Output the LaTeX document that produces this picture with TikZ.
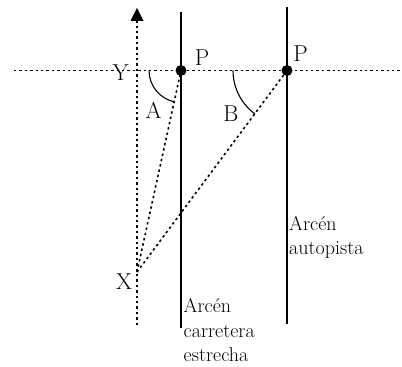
\documentclass[tikz,border=0pt]{standalone}
\usepackage{fontspec}
\setmainfont{Latin Modern Roman}
\usetikzlibrary{calc}
\begin{document}
\begin{tikzpicture}[x=1pt,y=1pt,
  dotline/.style={line width=1.6pt,dash pattern=on 2.4pt off 3pt},
  solidline/.style={line width=1.4pt},
  lbl/.style={inner sep=0pt,anchor=base,font=\fontsize{23}{24}\selectfont},
  txt/.style={inner sep=0pt,anchor=base west,font=\fontsize{20}{24}\selectfont},
  pdot/.style={circle,fill=black,inner sep=0pt,minimum size=11pt}]
\useasboundingbox (0,0) rectangle (402,367);
% points
\coordinate (P1) at (181,296.5);
\coordinate (P2) at (287,296.5);
\coordinate (X) at (137,95);
\coordinate (HL) at (14,296.5);
\coordinate (HR) at (402,296.5);
\coordinate (AxB) at (137,42);
\coordinate (AxT) at (137,346);
\coordinate (L1T) at (181,355);
\coordinate (L1B) at (181,39);
\coordinate (L2T) at (287,360);
\coordinate (L2B) at (287,43);
% dotted lines
\draw[dotline] (HL) -- (HR);
\draw[dotline] (AxB) -- (AxT);
\fill (130.5,346) -- (143.5,346) -- (137,359) -- cycle;
\draw[dotline] (X) -- (P1);
\draw[dotline] (X) -- (P2);
% solid lines
\draw[solidline] (L1T) -- (L1B);
\draw[solidline] (L2T) -- (L2B);
% arcs
\draw[solidline,line width=1.1pt] let \p1=($(X)-(P1)$), \n1={atan2(\y1,\x1)+360} in
  ($(P1)+(180:32)$) arc[start angle=180,end angle=\n1,radius=32];
\draw[solidline,line width=1.1pt] let \p1=($(X)-(P2)$), \n1={atan2(\y1,\x1)+360} in
  ($(P2)+(180:54)$) arc[start angle=180,end angle=\n1,radius=54];
% dots
\node[pdot] (dP1) at (P1) {};
\node[pdot] (dP2) at (P2) {};
% labels
\node[lbl] (lY) at (120.5,286) {Y};
\node[lbl] (lP1) at (202,301) {P};
\node[lbl] (lP2) at (300.5,305) {P};
\node[lbl] (lA) at (153.5,248) {A};
\node[lbl] (lB) at (231,245) {B};
\node[lbl] (lX) at (124,77.7) {X};
\node[txt] (t1) at (289,136) {Arcén};
\node[txt] (t2) at (289,112) {autopista};
\node[txt] (t3) at (183.5,54) {Arcén};
\node[txt] (t4) at (183.5,29) {carretera};
\node[txt] (t5) at (183.5,5) {estrecha};
\end{tikzpicture}
\end{document}
